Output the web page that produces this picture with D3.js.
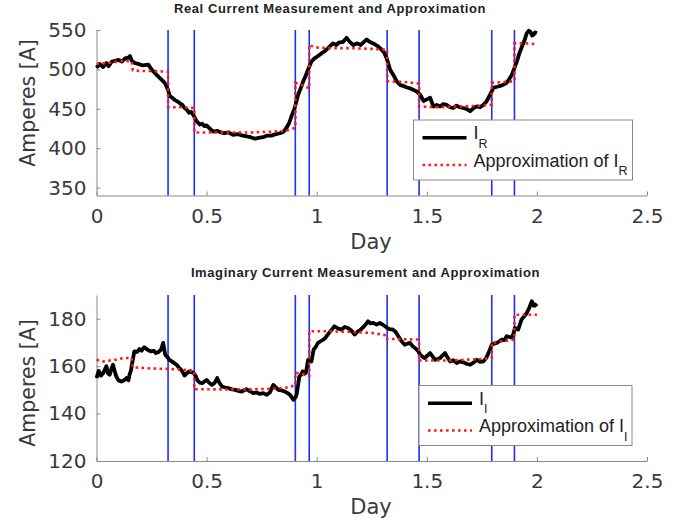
<!DOCTYPE html>
<html>
<head>
<meta charset="utf-8">
<script src="https://cdn.jsdelivr.net/npm/d3@7"></script>
<style>
  body { margin: 0; background: #fff; }
  svg { display: block; }
  .tick text { font-family: "DejaVu Sans", sans-serif; font-size: 20px; fill: #3a3a3a; }
  .axis path, .axis line { stroke: #8a8a8a; }
</style>
</head>
<body>
<div id="chart"></div>
<script>
// ---- data ----
const xTicks = [0, 0.5, 1, 1.5, 2, 2.5];
const realTicks = [350, 400, 450, 500, 550];
const imagTicks = [120, 140, 160, 180];

// days where the approximation switches (blue lines)
const switchDays = [0.325, 0.444, 0.903, 0.966, 1.32, 1.465, 1.795, 1.898];

// real current I_R
const realDays = [0, 0.015, 0.03, 0.045, 0.055, 0.07, 0.085, 0.1, 0.115, 0.13, 0.145, 0.152, 0.16, 0.175, 0.19, 0.21, 0.235, 0.25, 0.27, 0.288, 0.31, 0.325, 0.333, 0.345, 0.356, 0.37, 0.379, 0.39, 0.4, 0.41, 0.42, 0.43, 0.44, 0.455, 0.47, 0.48, 0.49, 0.5, 0.51, 0.53, 0.55, 0.565, 0.58, 0.6, 0.62, 0.64, 0.651, 0.665, 0.682, 0.7, 0.72, 0.735, 0.757, 0.775, 0.795, 0.815, 0.833, 0.85, 0.863, 0.875, 0.886, 0.9, 0.916, 0.93, 0.939, 0.95, 0.961, 0.976, 0.99, 1.006, 1.02, 1.036, 1.055, 1.074, 1.09, 1.1, 1.12, 1.136, 1.15, 1.166, 1.185, 1.2, 1.215, 1.227, 1.24, 1.257, 1.275, 1.288, 1.305, 1.318, 1.333, 1.348, 1.363, 1.38, 1.394, 1.41, 1.424, 1.44, 1.454, 1.47, 1.485, 1.5, 1.515, 1.53, 1.545, 1.56, 1.575, 1.59, 1.605, 1.62, 1.635, 1.65, 1.665, 1.68, 1.697, 1.712, 1.727, 1.742, 1.757, 1.77, 1.78, 1.795, 1.803, 1.82, 1.833, 1.85, 1.863, 1.875, 1.886, 1.898, 1.909, 1.92, 1.932, 1.945, 1.954, 1.963, 1.97, 1.978, 1.985, 1.992, 2.0];
const realValues = [502, 507, 503, 508, 504, 510, 511, 512, 510, 514, 515, 517, 511, 508, 507, 505, 506, 500, 494, 489, 483, 474, 466, 464, 461, 459, 457, 455, 451, 449, 445, 446, 442, 434, 430, 431, 428, 429, 426, 421, 422, 420, 419, 420, 417, 418, 417, 416, 415, 414, 412, 413, 414, 416, 416, 418, 419, 421, 426, 432, 441, 451, 468, 478, 485, 492, 500, 510, 514, 517, 520, 523, 528, 533, 531, 534, 535, 540, 535, 531, 533, 531, 535, 538, 535, 533, 530, 527, 522, 514, 500, 493, 485, 480, 479, 477, 476, 474, 472, 468, 460, 462, 464, 453, 455, 453, 456, 455, 452, 451, 454, 452, 451, 450, 447, 451, 453, 452, 455, 459, 464, 472, 477, 478, 479, 481, 483, 488, 493, 502, 510, 520, 529, 538, 546, 549, 548, 543, 544, 547, 546];

const realApproxDays = [0, 0.04, 0.08, 0.12, 0.16, 0.165, 0.2, 0.25, 0.325, 0.325, 0.38, 0.444, 0.444, 0.55, 0.7, 0.8, 0.86, 0.903, 0.903, 0.935, 0.966, 0.966, 0.99, 1.05, 1.15, 1.25, 1.32, 1.32, 1.4, 1.465, 1.465, 1.55, 1.65, 1.75, 1.795, 1.795, 1.85, 1.898, 1.898, 1.95, 2.0];
const realApproxValues = [507, 508, 509, 511, 510, 499, 498, 498, 497, 452, 452, 451, 420, 420, 420, 421, 422, 426, 483, 480, 476, 531, 528, 527, 527, 526, 525, 485, 484, 482, 453, 452, 453, 454, 455, 483, 484, 485, 533, 533, 532];

// imaginary current I_I
const imagDays = [0, 0.01, 0.02, 0.03, 0.04, 0.045, 0.052, 0.06, 0.068, 0.075, 0.082, 0.09, 0.1, 0.113, 0.125, 0.136, 0.145, 0.15, 0.156, 0.162, 0.172, 0.185, 0.195, 0.205, 0.217, 0.23, 0.248, 0.26, 0.27, 0.282, 0.293, 0.303, 0.312, 0.325, 0.33, 0.342, 0.353, 0.365, 0.376, 0.388, 0.4, 0.41, 0.42, 0.43, 0.44, 0.45, 0.458, 0.47, 0.48, 0.49, 0.5, 0.512, 0.525, 0.537, 0.548, 0.558, 0.57, 0.585, 0.6, 0.615, 0.63, 0.645, 0.66, 0.68, 0.695, 0.712, 0.727, 0.742, 0.758, 0.773, 0.788, 0.803, 0.815, 0.826, 0.84, 0.856, 0.868, 0.879, 0.894, 0.905, 0.91, 0.921, 0.93, 0.936, 0.945, 0.951, 0.961, 0.97, 0.976, 0.986, 0.995, 1.006, 1.018, 1.03, 1.04, 1.05, 1.065, 1.08, 1.095, 1.112, 1.127, 1.142, 1.157, 1.172, 1.185, 1.2, 1.217, 1.233, 1.245, 1.257, 1.272, 1.287, 1.3, 1.31, 1.322, 1.333, 1.345, 1.356, 1.368, 1.38, 1.39, 1.4, 1.412, 1.424, 1.435, 1.447, 1.46, 1.47, 1.48, 1.49, 1.503, 1.515, 1.527, 1.538, 1.55, 1.56, 1.572, 1.583, 1.595, 1.606, 1.62, 1.636, 1.65, 1.666, 1.68, 1.697, 1.712, 1.727, 1.742, 1.757, 1.77, 1.78, 1.795, 1.806, 1.818, 1.83, 1.84, 1.852, 1.863, 1.875, 1.886, 1.893, 1.9, 1.915, 1.93, 1.942, 1.954, 1.965, 1.977, 1.985, 1.992, 2.0];
const imagValues = [155, 158, 156, 157, 159, 160, 157, 156.4, 159, 160.6, 158, 155.6, 154, 153.5, 154, 155, 154, 156.4, 158, 161.3, 166.2, 166, 167.2, 166.5, 168, 167, 166.2, 166.5, 165.5, 166, 167, 169.8, 164.8, 163.5, 162.7, 162, 161.3, 160.5, 159.2, 158, 156, 157, 157.8, 157.5, 157.2, 156, 154, 153, 152.8, 153.5, 154.2, 153, 152.1, 153, 155, 153, 151.4, 151, 150.7, 150.2, 150, 149.5, 149.3, 150.3, 149.5, 148.6, 148.9, 148.3, 148.6, 147.9, 149, 152.1, 151, 150, 149.8, 149.3, 148.6, 147.9, 145.8, 147, 148.6, 155.6, 156.5, 157.8, 156.8, 157.2, 162.7, 162.5, 162, 167, 168, 169.8, 170.5, 171.2, 172, 173.3, 175, 176.8, 176, 175.4, 176.5, 176.1, 175, 173.3, 174.5, 175.4, 177, 178.9, 178, 178.2, 177.5, 178.2, 177.5, 176.8, 176, 175.5, 175.5, 174.7, 173, 171.2, 170, 169, 169.5, 169.8, 168.5, 167.6, 166.5, 164.8, 164, 163.4, 164.5, 165.5, 164, 162.7, 163, 163.4, 164.5, 165.5, 163.5, 162, 162.5, 161.3, 162, 161.6, 161, 160.6, 161.5, 162.7, 161.8, 162, 163.5, 165.5, 169, 169.5, 169.8, 170.5, 171.2, 171, 172.6, 172.3, 172, 173.5, 176.1, 175.4, 179.6, 181, 182.4, 184.5, 187.4, 185.5, 186, 185.2];

const imagApproxDays = [0, 0.03, 0.08, 0.12, 0.16, 0.165, 0.25, 0.325, 0.38, 0.444, 0.444, 0.55, 0.7, 0.8, 0.87, 0.903, 0.903, 0.966, 0.966, 1.05, 1.15, 1.25, 1.32, 1.32, 1.465, 1.465, 1.6, 1.75, 1.795, 1.795, 1.898, 1.898, 2.0];
const imagApproxValues = [162.7, 162, 162.6, 163.4, 163.5, 159.5, 159, 158.8, 158.6, 158, 150.3, 150.2, 150.2, 150.5, 151, 152, 157.3, 156, 174.7, 174.7, 174.5, 174, 172.9, 171.5, 171.2, 162.4, 162.4, 163, 163.4, 169.8, 171.2, 181.7, 181.7];

// ---- drawing ----
const width = 691, height = 525;
const svg = d3.select('#chart').append('svg')
    .attr('width', width)
    .attr('height', height);

const x = d3.scaleLinear().domain([0, 2.5]).range([96.5, 647]);

function drawPanel(p) {
    const y = d3.scaleLinear().domain(p.yDomain).range(p.yRange);
    const g = svg.append('g');
    const [yBottom, yTop] = p.yRange;

    // title
    g.append('text')
        .attr('x', p.titleX).attr('y', p.titleY)
        .attr('text-anchor', 'middle')
        .style('font-family', '"Liberation Sans", Arial, sans-serif')
        .style('font-weight', 'bold')
        .style('font-size', '13px')
        .style('letter-spacing', '0.6px')
        .style('fill', '#222')
        .text(p.title);

    // axes (MATLAB style: inward ticks, no box)
    g.append('g').attr('class', 'axis')
        .attr('transform', `translate(0,${yBottom})`)
        .call(d3.axisBottom(x).tickValues(xTicks).tickFormat(d3.format('')).tickSize(-4).tickSizeOuter(0).tickPadding(13));
    g.append('g').attr('class', 'axis')
        .attr('transform', `translate(${x.range()[0]},0)`)
        .call(d3.axisLeft(y).tickValues(p.yTicks).tickSize(-4).tickSizeOuter(0).tickPadding(10));

    // blue switch lines
    g.selectAll('line.switch').data(switchDays).join('line')
        .attr('class', 'switch')
        .attr('x1', d => x(d)).attr('x2', d => x(d))
        .attr('y1', yTop).attr('y2', yBottom)
        .attr('stroke', '#1f2bff').attr('stroke-width', 1.6);

    const line = d3.line().x(d => x(d[0])).y(d => y(d[1]));

    g.append('path')
        .datum(d3.zip(p.days, p.values))
        .attr('d', line)
        .attr('fill', 'none')
        .attr('stroke', '#000')
        .attr('stroke-width', 3.8)
        .attr('stroke-linejoin', 'round');

    g.append('path')
        .datum(d3.zip(p.approxDays, p.approxValues))
        .attr('d', line)
        .attr('fill', 'none')
        .attr('stroke', '#ff1a1a')
        .attr('stroke-width', 2.6)
        .attr('stroke-dasharray', '2.6,3.4');

    // axis labels
    g.append('text')
        .attr('x', 371).attr('y', p.dayY)
        .attr('text-anchor', 'middle')
        .style('font-family', '"DejaVu Sans", sans-serif')
        .style('font-size', '21px')
        .style('fill', '#3a3a3a')
        .text('Day');
    g.append('text')
        .attr('transform', `translate(35,${p.ampY}) rotate(-90)`)
        .attr('text-anchor', 'middle')
        .style('font-family', '"DejaVu Sans", sans-serif')
        .style('font-size', '20.5px')
        .style('fill', '#3a3a3a')
        .text('Amperes [A]');

    // legend
    const L = p.legend;
    const lg = g.append('g').attr('transform', `translate(${L.x},${L.y})`);
    lg.append('rect')
        .attr('width', L.w).attr('height', L.h)
        .attr('fill', '#fff').attr('stroke', '#8a8a8a').attr('stroke-width', 1);
    const rows = [
        { y: 17.7, stroke: '#000', sw: 3.6, dash: null, label: 'I' },
        { y: 45, stroke: '#ff1a1a', sw: 2.6, dash: '2.6,3.4', label: 'Approximation of I' }
    ];
    rows.forEach(r => {
        lg.append('line')
            .attr('x1', L.lineX).attr('x2', L.lineX + 44)
            .attr('y1', r.y).attr('y2', r.y)
            .attr('stroke', r.stroke).attr('stroke-width', r.sw)
            .attr('stroke-dasharray', r.dash);
        const t = lg.append('text')
            .attr('x', L.lineX + 51).attr('y', r.y + 1.5)
            .style('font-family', '"Liberation Sans", Arial, sans-serif')
            .style('font-size', '18px')
            .style('fill', '#222')
            .text(r.label);
        t.append('tspan')
            .attr('dy', 8.5)
            .style('font-size', '12.5px')
            .text(L.sub);
    });
}

drawPanel({
    title: 'Real Current Measurement and Approximation',
    titleX: 330, titleY: 12.5,
    yDomain: [340, 550], yRange: [195.5, 30], yTicks: realTicks,
    days: realDays, values: realValues,
    approxDays: realApproxDays, approxValues: realApproxValues,
    dayY: 249, ampY: 103,
    legend: { x: 413.5, y: 120, w: 219, h: 60, lineX: 9, sub: 'R' }
});

drawPanel({
    title: 'Imaginary Current Measurement and Approximation',
    titleX: 365.5, titleY: 277,
    yDomain: [120, 190], yRange: [461, 295], yTicks: imagTicks,
    days: imagDays, values: imagValues,
    approxDays: imagApproxDays, approxValues: imagApproxValues,
    dayY: 514, ampY: 383,
    legend: { x: 419, y: 385.5, w: 213, h: 60, lineX: 9, sub: 'I' }
});
</script>
</body>
</html>
